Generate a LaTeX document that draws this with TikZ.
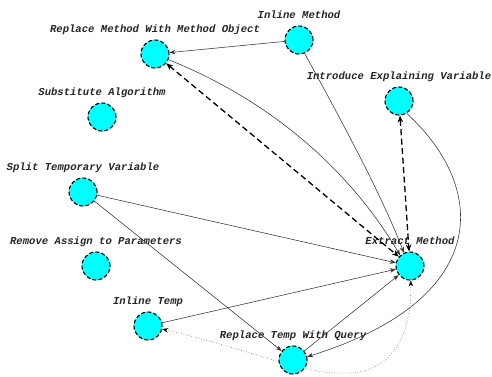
\documentclass[tikz,border=0pt]{standalone}
\usepackage{fontspec}
\setmonofont{Liberation Mono}
\usetikzlibrary{arrows.meta,backgrounds}
\definecolor{nodecyan}{RGB}{0,255,255}
\begin{document}
\begin{tikzpicture}[x=1pt,y=-1pt,
 vnode/.style={circle,draw=black,fill=nodecyan,line width=1.1pt,dash pattern=on 4pt off 2.2pt,minimum size=28pt,inner sep=0pt},
 lbl/.style={font=\fontsize{10.6}{12}\selectfont\ttfamily\bfseries\itshape,anchor=base,inner sep=0pt,text=black!85},
 dep/.style={line width=0.55pt,draw=black!80,-{Stealth[length=6pt,width=4.5pt]}},
 dbl/.style={line width=1.3pt,dash pattern=on 6pt off 3.5pt,{Stealth[length=7pt,width=5.5pt]}-{Stealth[length=7pt,width=5.5pt]}},
 dotedge/.style={line width=0.6pt,draw=black!60,dotted,{Stealth[length=6pt,width=4.5pt,color=black]}-{Stealth[length=6pt,width=4.5pt,color=black]}}]
\useasboundingbox (0,0) rectangle (492,376);
% nodes
\node[vnode] (rm) at (155,54) {};
\node[vnode] (sa) at (102,117) {};
\node[vnode] (im) at (299,40) {};
\node[vnode] (iev) at (399,101) {};
\node[vnode] (stv) at (83,192) {};
\node[vnode] (ra) at (96,266) {};
\node[vnode] (it) at (148,326) {};
\node[vnode] (em) at (410,266) {};
\node[vnode] (rtq) at (293,360) {};
% labels
\node[lbl] (rm-l) at (155,32.5) {Replace Method With Method Object};
\node[lbl] (sa-l) at (102,95.5) {Substitute Algorithm};
\node[lbl] (im-l) at (299,18.5) {Inline Method};
\node[lbl] (iev-l) at (399,79.5) {Introduce Explaining Variable};
\node[lbl] (stv-l) at (83,170.5) {Split Temporary Variable};
\node[lbl] (ra-l) at (96,244.5) {Remove Assign to Parameters};
\node[lbl] (it-l) at (148,304.5) {Inline Temp};
\node[lbl] (em-l) at (410,244.5) {Extract Method};
\node[lbl] (rtq-l) at (293,338.5) {Replace Temp With Query};
% edges
\draw[dep] (im) -- (rm);
\draw[dep] (im.-67) .. controls (330,100) and (380,190) .. (em.115);
\draw[dep] (rm.-23) .. controls (270,100) and (350,170) .. (em.133);
\draw[dbl] (rm) -- (em);
\draw[dbl] (iev) -- (em);
\draw[dep] (iev.-58) .. controls (490,190) and (490,300) .. (rtq.13);
\draw[dep] (stv) -- (em);
\draw[dep] (stv) -- (rtq);
\draw[dep] (it) -- (em);
\draw[dep] (rtq) -- (em);
\begin{scope}[on background layer]
\draw[dotedge] (it.-12) .. controls (260,352) and (300,375) .. (350,373) .. controls (395,371) and (412,330) .. (em.-87);
\end{scope}
\end{tikzpicture}
\end{document}
